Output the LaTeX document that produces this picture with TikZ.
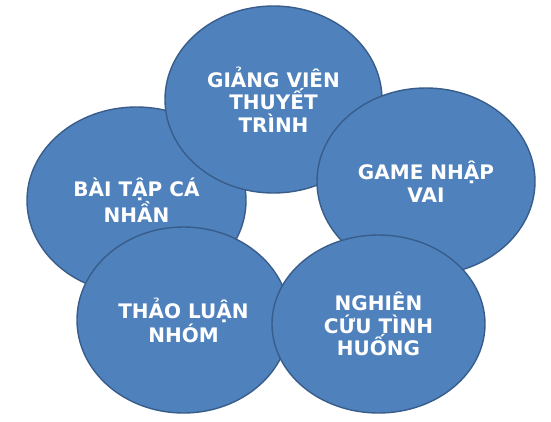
\documentclass[tikz,border=0pt]{standalone}
\usepackage{fontspec}
\setmainfont{DejaVu Sans}
\usetikzlibrary{shapes.geometric}
\definecolor{fillblue}{HTML}{4F81BD}
\definecolor{edgeblue}{HTML}{385D8A}
\begin{document}
\begin{tikzpicture}[x=1pt,y=-1pt,
  bubble/.style={ellipse, draw=edgeblue, fill=fillblue, line width=1.4pt,
    inner sep=0pt, text=white, align=center,
    font=\fontsize{20}{22.5}\selectfont\bfseries},
]
\useasboundingbox[fill=white] (0,0) rectangle (551,421);
\node[bubble, minimum width=219pt, minimum height=187pt] (bt) at (136.5,200.5) {BÀI TẬP CÁ\\NHẦN};
\node[bubble, minimum width=217pt, minimum height=187pt] (gv) at (273.5,99.5) {GIẢNG VIÊN\\THUYẾT\\TRÌNH};
\node[bubble, minimum width=218pt, minimum height=187pt] (gm) at (426,181.5) {GAME NHẬP\\VAI};
\node[bubble, minimum width=213pt, minimum height=186pt] (tl) at (183.5,320) {THẢO LUẬN\\NHÓM};
\node[bubble, minimum width=213pt, minimum height=178pt] (nc) at (378.5,324) {NGHIÊN\\CỨU TÌNH\\HUỐNG};
\end{tikzpicture}
\end{document}
